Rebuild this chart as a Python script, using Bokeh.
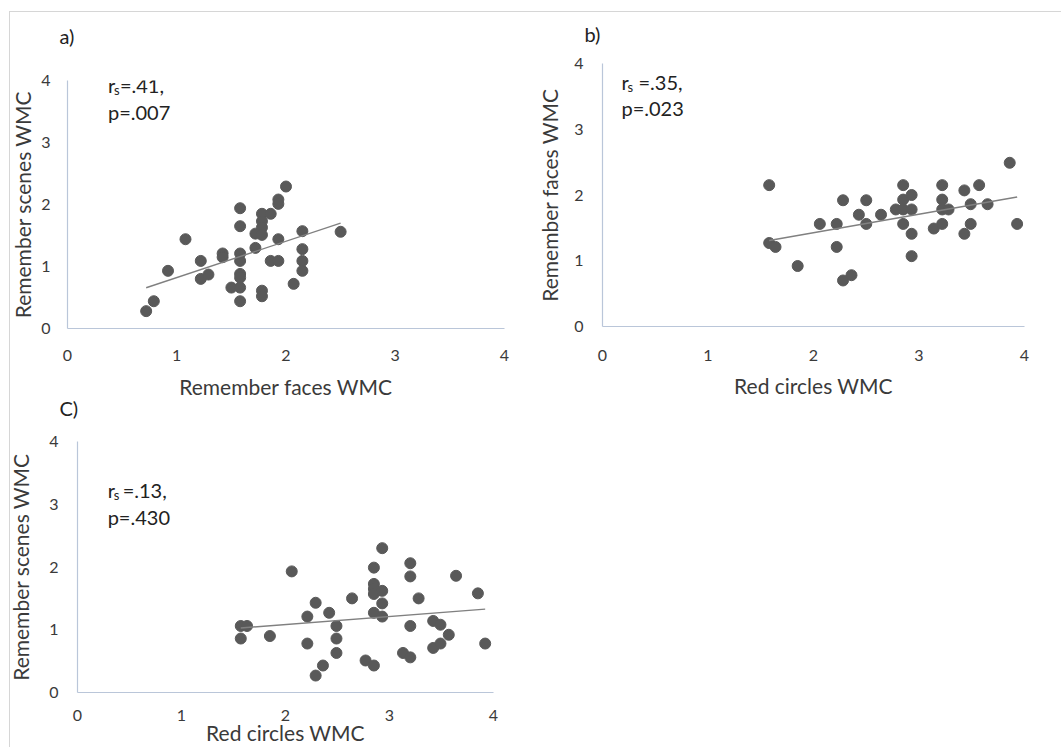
import numpy as np
from bokeh.plotting import figure
from bokeh.models import Range1d, FixedTicker, Label, Title, Spacer
from bokeh.layouts import row, column
from bokeh.embed import file_html
from bokeh.resources import INLINE

# ---------------- data ----------------
ticks = [0, 1, 2, 3, 4]
tick_labels = ["0", "1", "2", "3", "4"]

# a) Remember faces WMC (x) vs Remember scenes WMC (y)
a_x = [0.72, 0.79, 0.92, 1.08, 1.22, 1.22, 1.29, 1.42, 1.42, 1.50,
       1.58, 1.58, 1.58, 1.58, 1.58, 1.58, 1.58, 1.58,
       1.72, 1.72, 1.78, 1.78, 1.78, 1.78, 1.78, 1.78,
       1.86, 1.86, 1.93, 1.93, 1.93, 1.93, 2.00, 2.07,
       2.15, 2.15, 2.15, 2.15, 2.50]
a_y = [0.28, 0.44, 0.93, 1.44, 1.09, 0.80, 0.87, 1.21, 1.15, 0.66,
       1.94, 1.65, 1.21, 1.09, 0.88, 0.82, 0.66, 0.44,
       1.53, 1.30, 1.85, 1.73, 1.63, 1.51, 0.61, 0.52,
       1.85, 1.09, 2.08, 2.01, 1.44, 1.09, 2.29, 0.72,
       1.57, 1.28, 1.09, 0.93, 1.56]

# b) Red circles WMC (x) vs Remember faces WMC (y)
b_x = [1.58, 1.58, 1.64, 1.85, 2.06, 2.22, 2.22, 2.28, 2.28, 2.36,
       2.43, 2.50, 2.50, 2.64, 2.78, 2.85, 2.85, 2.85, 2.85,
       2.93, 2.93, 2.93, 2.93, 3.14, 3.22, 3.22, 3.22, 3.22, 3.28,
       3.43, 3.43, 3.49, 3.49, 3.57, 3.65, 3.86, 3.93]
b_y = [2.15, 1.27, 1.21, 0.92, 1.56, 1.56, 1.21, 1.92, 0.70, 0.78,
       1.70, 1.92, 1.56, 1.70, 1.78, 2.15, 1.93, 1.78, 1.56,
       2.00, 1.78, 1.41, 1.07, 1.49, 2.15, 1.93, 1.78, 1.56, 1.78,
       2.07, 1.41, 1.86, 1.56, 2.15, 1.86, 2.49, 1.56]

# c) Red circles WMC (x) vs Remember scenes WMC (y)
c_x = [1.57, 1.63, 1.57, 1.85, 2.06, 2.21, 2.21, 2.29, 2.29, 2.36,
       2.42, 2.49, 2.49, 2.49, 2.64, 2.77, 2.85, 2.85, 2.85, 2.85,
       2.85, 2.85, 2.93, 2.93, 2.93, 2.93, 3.13, 3.20, 3.20, 3.20,
       3.20, 3.28, 3.42, 3.42, 3.49, 3.49, 3.57, 3.64, 3.85, 3.92]
c_y = [1.06, 1.06, 0.86, 0.90, 1.93, 1.21, 0.78, 1.43, 0.27, 0.43,
       1.27, 1.06, 0.86, 0.63, 1.50, 0.51, 1.99, 1.73, 1.65, 1.57,
       1.27, 0.43, 2.30, 1.62, 1.42, 1.21, 0.63, 2.06, 1.85, 1.06,
       0.56, 1.50, 1.14, 0.71, 1.08, 0.78, 0.92, 1.86, 1.58, 0.78]

stats_a = ("=.41,", "p=.007")
stats_b = ("=.35,", "p=.023")
stats_c = ("=.13,", "p=.430")

# ---------------- style ----------------
FONT = "Lato"
AXIS_COLOR = "#bac6d9"
TEXT_COLOR = "#3a3a3a"
DOT_COLOR = "#595959"
TREND_COLOR = "#808080"
FRAME_COLOR = "#d6d6d6"
TITLE_SIZE = "21px"
TICK_SIZE = "16px"
ANN_SIZE = "20px"


def panel(xs, ys, xlabel, ylabel, stats, width, height, mb,
          x_std, xl_std, y_std, yl_std, ann_x, ann_y1, ann_y2, sub_dx, eq_dx):
    p = figure(width=width, height=height,
               x_range=Range1d(0, 4), y_range=Range1d(0, 4),
               output_backend="svg", toolbar_location=None,
               min_border_left=mb[0], min_border_right=mb[1],
               min_border_top=mb[2], min_border_bottom=mb[3])
    p.outline_line_color = None
    p.background_fill_color = None
    p.border_fill_color = None
    p.xgrid.visible = False
    p.ygrid.visible = False

    for ax, std, lstd, lab in ((p.xaxis[0], x_std, xl_std, xlabel),
                               (p.yaxis[0], y_std, yl_std, ylabel)):
        ax.ticker = FixedTicker(ticks=ticks)
        ax.major_label_overrides = {t: s for t, s in zip(ticks, tick_labels)}
        ax.major_tick_line_color = None
        ax.minor_tick_line_color = None
        ax.major_tick_out = 0
        ax.major_tick_in = 0
        ax.axis_line_color = AXIS_COLOR
        ax.axis_line_width = 1.2
        ax.major_label_text_font = FONT
        ax.major_label_text_font_size = TICK_SIZE
        ax.major_label_text_color = TEXT_COLOR
        ax.major_label_standoff = std
        ax.axis_label = lab
        ax.axis_label_text_font = FONT
        ax.axis_label_text_font_size = TITLE_SIZE
        ax.axis_label_text_font_style = "normal"
        ax.axis_label_text_color = TEXT_COLOR
        ax.axis_label_standoff = lstd
    p.yaxis[0].major_label_orientation = "horizontal"

    p.scatter(xs, ys, size=11, fill_color=DOT_COLOR, line_color=DOT_COLOR)

    coef = np.polyfit(np.array(xs), np.array(ys), 1)
    lx = np.array([min(xs), max(xs)])
    p.line(lx, np.polyval(coef, lx), line_color=TREND_COLOR, line_width=1.4)

    common = dict(text_font=FONT, text_color="#222222", text_baseline="middle")
    p.add_layout(Label(x=ann_x, y=ann_y1, text="r", text_font_size=ANN_SIZE, **common))
    p.add_layout(Label(x=ann_x, y=ann_y1, x_offset=sub_dx, y_offset=-5, text="s",
                       text_font_size="13px", **common))
    p.add_layout(Label(x=ann_x, y=ann_y1, x_offset=eq_dx, text=stats[0],
                       text_font_size=ANN_SIZE, **common))
    p.add_layout(Label(x=ann_x, y=ann_y2, text=stats[1], text_font_size=ANN_SIZE, **common))
    return p


def tag(p, text, offset, standoff, place):
    t = Title(text=text, align="left", offset=offset, standoff=standoff,
              text_font=FONT, text_font_size=ANN_SIZE, text_font_style="normal",
              text_color="#222222")
    p.add_layout(t, place)


# the whole layout starts 12 px above the page top
fa = panel(a_x, a_y, "Remember faces WMC", "Remember scenes WMC", stats_a,
           width=533, height=434, mb=(67, 29, 90, 94),
           x_std=21, xl_std=10, y_std=17, yl_std=3,
           ann_x=0.37, ann_y1=3.92, ann_y2=3.49, sub_dx=6, eq_dx=12)
tag(fa, "a)", -8, 66, "above")
tag(fa, "C)", -8, -16, "below")

fb = panel(b_x, b_y, "Red circles WMC", "Remember faces WMC", stats_b,
           width=528, height=417, mb=(69, 37, 74, 80),
           x_std=23, xl_std=9, y_std=19, yl_std=9,
           ann_x=0.18, ann_y1=3.72, ann_y2=3.32, sub_dx=6, eq_dx=17)
tag(fb, "b)", -18, 35, "above")

fc = panel(c_x, c_y, "Red circles WMC", "Remember scenes WMC", stats_c,
           width=530, height=325, mb=(76, 38, 19, 55),
           x_std=17, xl_std=-4, y_std=19, yl_std=13,
           ann_x=0.29, ann_y1=3.22, ann_y2=2.79, sub_dx=6, eq_dx=15)

top = row(fa, column(Spacer(height=1, width=10), fb))
bottom = row(Spacer(width=1, height=10), fc)
root = column(top, bottom, margin=(-12, 0, 0, 0),
              styles={"background-image": f"linear-gradient({FRAME_COLOR},{FRAME_COLOR}), "
                                          f"linear-gradient({FRAME_COLOR},{FRAME_COLOR})",
                      "background-position": "9px 23px, 9px 23px",
                      "background-size": "1px 100%, 100% 1px",
                      "background-repeat": "no-repeat"})

html = file_html(root, INLINE, title="WMC correlations")
with open("out.html", "w") as f:
    f.write(html)
